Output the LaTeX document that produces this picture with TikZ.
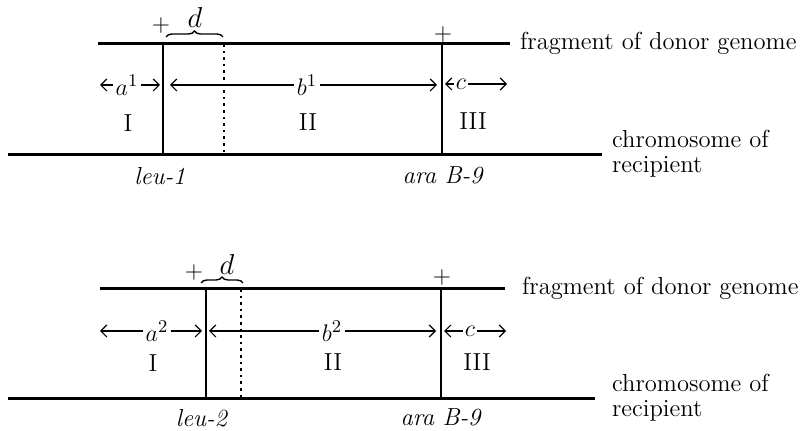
\documentclass[tikz,border=0pt]{standalone}
\usepackage{amsmath}
\usetikzlibrary{arrows.meta,decorations.pathreplacing}

\begin{document}
\begin{tikzpicture}[x=0.5pt,y=-0.5pt,font=\fontsize{12.3}{15}\selectfont,
 strand/.style={line width=1.5pt},
 locus/.style={line width=1.4pt},
 dotlocus/.style={line width=1.3pt,dotted},
 ar/.style={-{Straight Barb[length=3pt,width=6pt]},line width=.6pt},
 lab/.style={inner sep=1pt},
 pl/.style={font=\fontsize{12.5}{14}\selectfont,inner sep=0pt},
 dl/.style={font=\fontsize{14}{16}\selectfont,inner sep=0pt},
 br/.style={decorate,decoration={brace,amplitude=3pt},line width=.7pt}]
\useasboundingbox (0,0) rectangle (802,431);
% upper panel: leu-1
\coordinate (d1l) at (98,44); \coordinate (d1r) at (510,44);
\coordinate (r1l) at (8,155); \coordinate (r1r) at (602,155);
\coordinate (leu1t) at (163,44); \coordinate (leu1b) at (163,155);
\coordinate (dot1t) at (224,44); \coordinate (dot1b) at (224,155);
\coordinate (ara1t) at (442,44); \coordinate (ara1b) at (442,155);
\draw[strand] (d1l) -- (d1r);
\draw[strand] (r1l) -- (r1r);
\draw[locus] (leu1t) -- (leu1b);
\draw[dotlocus] (dot1t) -- (dot1b);
\draw[locus] (ara1t) -- (ara1b);
\node[pl] (p1a) at (161,26) {$+$};
\node[pl] (p1b) at (443,35) {$+$};
\coordinate (br1l) at (166,37); \coordinate (br1r) at (223,37);
\draw[br] (br1l) -- (br1r);
\node[dl] (d1) at (195,18) {$d$};
\node[lab] (a1) at (127,85) {$a^1$};
\coordinate (a1L) at (100,85); \coordinate (a1R) at (160,85);
\draw[ar] (a1.west) -- (a1L);
\draw[ar] (a1.east) -- (a1R);
\node[lab] (b1) at (307,85) {$b^1$};
\coordinate (b1L) at (170,85); \coordinate (b1R) at (437,85);
\draw[ar] (b1.west) -- (b1L);
\draw[ar] (b1.east) -- (b1R);
\node[lab] (c1) at (461,84) {$c$};
\coordinate (c1L) at (445,84); \coordinate (c1R) at (507,84);
\draw[ar] (c1.west) -- (c1L);
\draw[ar] (c1.east) -- (c1R);
\node (I1) at (128,123) {I};
\node (II1) at (308,122) {II};
\node (III1) at (473,121) {III};
\node (leu1) at (160,176) {\textit{leu-1}};
\node (ara1) at (443,175) {\textit{ara B-9}};
\node[anchor=west] (frag1) at (513,43) {fragment of donor genome};
\node[anchor=base west] (chr1) at (605,148) {chromosome of};
\node[anchor=base west] (rec1) at (605,173) {recipient};
% lower panel: leu-2
\coordinate (d2l) at (100,289); \coordinate (d2r) at (505,289);
\coordinate (r2l) at (8,399); \coordinate (r2r) at (595,399);
\coordinate (leu2t) at (206,289); \coordinate (leu2b) at (206,399);
\coordinate (dot2t) at (241,289); \coordinate (dot2b) at (241,399);
\coordinate (ara2t) at (441,289); \coordinate (ara2b) at (441,399);
\draw[strand] (d2l) -- (d2r);
\draw[strand] (r2l) -- (r2r);
\draw[locus] (leu2t) -- (leu2b);
\draw[dotlocus] (dot2t) -- (dot2b);
\draw[locus] (ara2t) -- (ara2b);
\node[pl] (p2a) at (194,273) {$+$};
\node[pl] (p2b) at (442,278) {$+$};
\coordinate (br2l) at (201,283); \coordinate (br2r) at (243,283);
\draw[br] (br2l) -- (br2r);
\node[dl] (d2) at (227,265) {$d$};
\node[lab] (a2) at (157,331) {$a^2$};
\coordinate (a2L) at (100,331); \coordinate (a2R) at (202,331);
\draw[ar] (a2.west) -- (a2L);
\draw[ar] (a2.east) -- (a2R);
\node[lab] (b2) at (332,331) {$b^2$};
\coordinate (b2L) at (209,331); \coordinate (b2R) at (436,331);
\draw[ar] (b2.west) -- (b2L);
\draw[ar] (b2.east) -- (b2R);
\node[lab] (c2) at (470,331) {$c$};
\coordinate (c2L) at (444,331); \coordinate (c2R) at (506,331);
\draw[ar] (c2.west) -- (c2L);
\draw[ar] (c2.east) -- (c2R);
\node (I2) at (153,363) {I};
\node (II2) at (333,362) {II};
\node (III2) at (477,362) {III};
\node (leu2) at (202,418) {\textit{leu-2}};
\node (ara2) at (441,417) {\textit{ara B-9}};
\node[anchor=west] (frag2) at (515,288) {fragment of donor genome};
\node[anchor=base west] (chr2) at (605,392) {chromosome of};
\node[anchor=base west] (rec2) at (605,417) {recipient};
\end{tikzpicture}
\end{document}
